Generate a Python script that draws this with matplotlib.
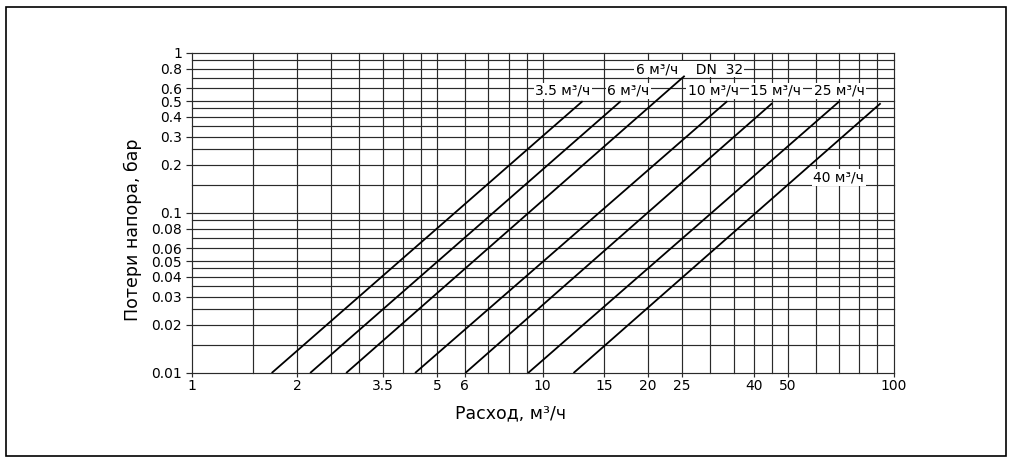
import numpy as np
import matplotlib
matplotlib.use("Agg")
import matplotlib.pyplot as plt
from matplotlib.patches import Rectangle

plt.rcParams['font.family'] = ['DejaVu Sans']

# Данные: прямые потерь напора (лог-лог), по двум точкам каждая
flow_start = [1.69, 2.175, 2.755, 4.33, 6.02, 9.09, 12.25]   # м3/ч при 0.01 бар
flow_end = [13.0, 16.7, 25.4, 33.6, 45.1, 70.2, 91.9]        # м3/ч в верхней точке
loss_start = [0.01, 0.01, 0.01, 0.01, 0.01, 0.01, 0.01]
loss_end = [0.50, 0.50, 0.72, 0.50, 0.485, 0.50, 0.485]

# подписи линий: текст, x (левый край), y (центр)
label_text = ["3.5 м³/ч", "6 м³/ч", "10 м³/ч", "15 м³/ч", "25 м³/ч",
              "6 м³/ч    DN  32", "40 м³/ч"]
label_x = [9.53, 15.3, 25.9, 39.1, 59.3, 18.4, 59.1]
label_y = [0.579, 0.579, 0.579, 0.579, 0.579, 0.794, 0.167]

# сетка и подписи осей
x_grid = [1, 1.5, 2, 2.5, 3, 3.5, 4, 4.5, 5, 6, 7, 8, 9, 10,
          15, 20, 25, 30, 35, 40, 45, 50, 60, 70, 80, 90, 100]
x_ticks = [1, 2, 3.5, 5, 6, 10, 15, 20, 25, 40, 50, 100]
x_ticklabels = ["1", "2", "3.5", "5", "6", "10", "15", "20", "25", "40", "50", "100"]
y_grid = [0.01, 0.015, 0.02, 0.025, 0.03, 0.035, 0.04, 0.045, 0.05, 0.06, 0.07, 0.08, 0.09,
          0.1, 0.15, 0.2, 0.25, 0.3, 0.35, 0.4, 0.45, 0.5, 0.6, 0.7, 0.8, 0.9, 1]
y_ticks = [0.01, 0.02, 0.03, 0.04, 0.05, 0.06, 0.08, 0.1, 0.2, 0.3, 0.4, 0.5, 0.6, 0.8, 1]
y_ticklabels = ["0.01", "0.02", "0.03", "0.04", "0.05", "0.06", "0.08",
                "0.1", "0.2", "0.3", "0.4", "0.5", "0.6", "0.8", "1"]

W, H = 1013, 463
fig = plt.figure(figsize=(W / 100, H / 100), dpi=100)
ax = fig.add_axes([191.7 / W, 1 - 373 / H, (893.5 - 191.7) / W, (373 - 53) / H])
ax.set_xscale('log')
ax.set_yscale('log')
ax.set_xlim(1, 100)
ax.set_ylim(0.01, 1)

grid_color = '#2a2a2a'
for xv in x_grid:
    ax.axvline(xv, color=grid_color, lw=0.85, zorder=1, clip_on=False)
for yv in y_grid:
    ax.axhline(yv, color=grid_color, lw=0.85, zorder=1, clip_on=False)

for s in ax.spines.values():
    s.set_visible(False)

ax.minorticks_off()
ax.set_xticks(x_ticks)
ax.set_xticklabels(x_ticklabels)
ax.set_yticks(y_ticks)
ax.set_yticklabels(y_ticklabels)
ax.tick_params(axis='x', length=3, width=0.85, color=grid_color, pad=1.5, labelsize=10)
ax.tick_params(axis='y', length=4.5, width=0.85, color=grid_color, pad=2.5, labelsize=10)
ax.tick_params(which='minor', length=0)

for i in range(len(flow_start)):
    ax.plot([flow_start[i], flow_end[i]], [loss_start[i], loss_end[i]],
            color='black', lw=1.3, zorder=4, solid_capstyle='butt')

for t, xv, yv in zip(label_text, label_x, label_y):
    ax.text(xv, yv, t, ha='left', va='center', fontsize=10, zorder=3,
            bbox=dict(boxstyle='square,pad=0.1', fc='white', ec='none'))

fig.text(133 / W, 1 - 230 / H, "Потери напора, бар", rotation=90,
         ha='center', va='center', fontsize=12.5)
fig.text(511 / W, 1 - 413 / H, "Расход, м³/ч", ha='center', va='center', fontsize=12.5)

# рамка вокруг рисунка
fig.patches.append(Rectangle((6 / W, 1 - 456 / H), 1000 / W, 449 / H,
                             transform=fig.transFigure, fill=False,
                             ec='black', lw=1.2))

fig.savefig("out.png", dpi=100)
